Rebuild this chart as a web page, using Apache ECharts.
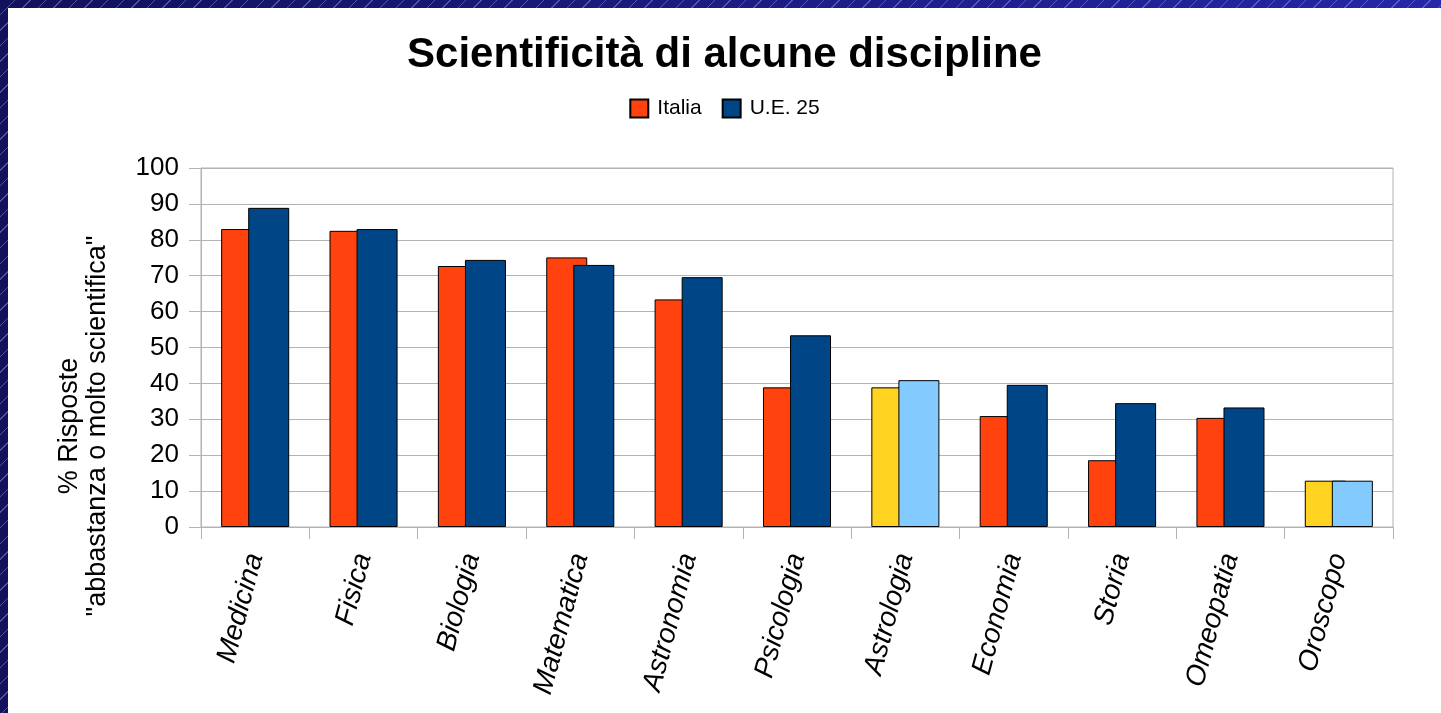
<!DOCTYPE html>
<html>
<head>
<meta charset="utf-8">
<title>Scientificità di alcune discipline</title>
<script src="https://cdn.jsdelivr.net/npm/echarts@6/dist/echarts.min.js"></script>
<style>
  html, body { margin: 0; padding: 0; }
  body {
    width: 1441px; height: 713px; overflow: hidden;
    background:
      repeating-linear-gradient(135deg, rgba(255,255,255,0) 0 10px, rgba(160,160,230,0.45) 10px 11px),
      linear-gradient(90deg, #11115c, #2626a8);
  }
  #chart { position: absolute; left: 8px; top: 8px; width: 1433px; height: 705px; background: #fff; }
</style>
</head>
<body>
<div id="chart"></div>
<script>
// discipline e percentuali
const categories = ['Medicina', 'Fisica', 'Biologia', 'Matematica', 'Astronomia', 'Psicologia',
  'Astrologia', 'Economia', 'Storia', 'Omeopatia', 'Oroscopo'];
const italia = [83, 82.5, 72.7, 75.1, 63.4, 38.9, 38.9, 30.9, 18.6, 30.4, 12.9];
const ue25 = [88.9, 83, 74.4, 73, 69.6, 53.4, 40.9, 39.6, 34.5, 33.3, 12.9];
const yTicks = [0, 10, 20, 30, 40, 50, 60, 70, 80, 90, 100];
// pseudoscienze evidenziate con colori diversi
const evidenziate = ['Astrologia', 'Oroscopo'];

const font = "'Liberation Sans', Arial, sans-serif";

function buildData(values, altColor) {
  return values.map((v, i) => {
    if (evidenziate.indexOf(categories[i]) >= 0) {
      return { value: v, itemStyle: { color: altColor } };
    }
    return v;
  });
}

const myChart = echarts.init(document.getElementById('chart'));

const option = {
  backgroundColor: '#fff',
  animation: false,
  textStyle: { fontFamily: font },
  title: {
    text: 'Scientificità di alcune discipline',
    left: 'center',
    top: 21,
    textStyle: { fontFamily: font, fontSize: 42, fontWeight: 'bold', color: '#000' }
  },
  legend: {
    top: 85,
    left: 'center',
    itemWidth: 18,
    itemHeight: 18,
    itemGap: 20,
    icon: 'rect',
    textStyle: { fontFamily: font, fontSize: 21, color: '#000', padding: [0, 0, 0, 4] },
    data: ['Italia', 'U.E. 25']
  },
  // titolo asse y, spostato verso il basso come nell'originale
  graphic: [{
    type: 'text',
    x: 76,
    y: 426 - 8,
    rotation: Math.PI / 2,
    style: {
      text: '% Risposte\n"abbastanza o molto scientifica"',
      font: "27px 'Liberation Sans', Arial, sans-serif",
      fill: '#000',
      align: 'center',
      verticalAlign: 'middle',
      lineHeight: 28
    }
  }],
  grid: {
    left: 193,
    right: 48,
    top: 160,
    bottom: 186,
    show: true,
    borderColor: '#b3b3b3',
    borderWidth: 1,
    containLabel: false
  },
  xAxis: {
    type: 'category',
    data: categories,
    axisLine: { lineStyle: { color: '#b3b3b3', width: 1 } },
    axisTick: { show: true, length: 12, alignWithLabel: false, lineStyle: { color: '#b3b3b3' } },
    axisLabel: {
      rotate: 75,
      margin: 27,
      interval: 0,
      fontFamily: font,
      fontSize: 28,
      fontStyle: 'italic',
      color: '#000'
    }
  },
  yAxis: {
    type: 'value',
    min: 0,
    max: 100,
    interval: 10,
    axisLine: { show: true, lineStyle: { color: '#b3b3b3', width: 1 } },
    axisTick: { show: true, length: 12, lineStyle: { color: '#b3b3b3' } },
    axisLabel: {
      margin: 22,
      fontFamily: font,
      fontSize: 26,
      color: '#000',
      formatter: v => (yTicks.indexOf(v) >= 0 ? String(v) : '')
    },
    splitLine: { lineStyle: { color: '#b3b3b3', width: 1 } }
  },
  series: [
    {
      name: 'Italia',
      type: 'bar',
      barWidth: 41,
      barGap: '-34%',
      data: buildData(italia, '#ffd320'),
      itemStyle: { color: '#ff420e', borderColor: '#000', borderWidth: 1 }
    },
    {
      name: 'U.E. 25',
      type: 'bar',
      barWidth: 41,
      barGap: '-34%',
      data: buildData(ue25, '#83caff'),
      itemStyle: { color: '#004586', borderColor: '#000', borderWidth: 1 }
    }
  ]
};

myChart.setOption(option);
</script>
</body>
</html>
